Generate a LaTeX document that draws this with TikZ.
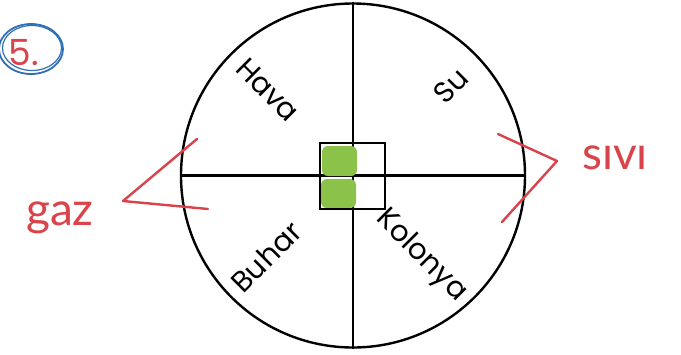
\documentclass[tikz,border=0pt]{standalone}
\usepackage{fontspec}
\setmainfont{Poppins}
\newfontfamily\hand{Lato}
\definecolor{penred}{HTML}{D9434A}
\definecolor{penblue}{HTML}{2F6FB5}
\definecolor{blob}{HTML}{8BC34A}
\tikzset{
  lab/.style={font=\fontsize{29}{29}\selectfont, inner sep=0pt},
  redink/.style={draw=penred, line width=2.4pt, line cap=round, line join=round},
  handtxt/.style={text=penred, font=\hand\fontsize{46}{46}\selectfont, inner sep=0pt}
}
\begin{document}
\begin{tikzpicture}[x=1pt,y=-1pt]
\useasboundingbox (0,0) rectangle (681,354);
% main circle
\node[circle, draw, line width=2.4pt, minimum size=344pt, inner sep=0pt] (c) at (353,175.5) {};
\draw[line width=2.2pt] (c.north) -- (c.south);
\draw[line width=2.2pt] (c.west) -- (c.east);
% green blobs
\fill[blob, rounded corners=6pt] (322,146) rectangle (357,176);
\fill[blob, rounded corners=6pt] (321,179) rectangle (356,208);
\node[draw, line width=2.6pt, minimum width=65pt, minimum height=66pt, inner sep=0pt] (sq) at (352.5,176) {};
% labels
\node[lab, rotate=-45] (hava) at (268,90) {Hava};
\node[lab, rotate=45] (su) at (451,86) {Su};
\node[lab, rotate=45] (buhar) at (266,257) {Buhar};
\node[lab, rotate=-45] (kolonya) at (421,256) {Kolonya};
% number 5
\node[text=penred, font=\fontsize{36}{36}\selectfont, inner sep=0pt] (five) at (24,53) {5.};
\draw[penblue, line width=1.8pt] (31,49) ellipse (32pt and 25pt);
\draw[penblue, line width=1.2pt] (32,48) ellipse (29.5pt and 22.5pt);
% red annotations
\coordinate (l1) at (197,139);
\coordinate (l2) at (123,201);
\coordinate (l3) at (208,209);
\draw[redink] (l1) -- (l2) -- (l3);
\node[handtxt] (gaz) at (60,218) {gaz};
\coordinate (r1) at (498,134);
\coordinate (r2) at (557,161);
\coordinate (r3) at (502,222);
\draw[redink] (r1) -- (r2) -- (r3);
\node[handtxt] (sivi) at (615,158) {sıvı};
\end{tikzpicture}
\end{document}
